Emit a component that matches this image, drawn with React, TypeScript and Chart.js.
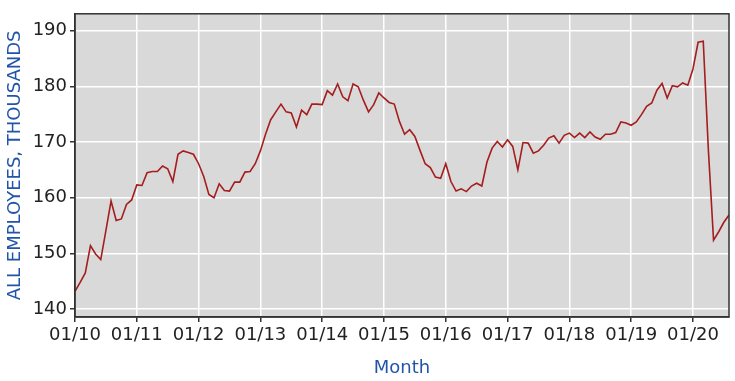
import React, { useEffect, useRef } from "react";
import { Chart, registerables } from "chart.js";

Chart.register(...registerables);

const tickLabels = ["01/10", "01/11", "01/12", "01/13", "01/14", "01/15", "01/16", "01/17", "01/18", "01/19", "01/20"];

const y2010 = [143.2, 144.8, 146.5, 151.4, 149.9, 148.9, 154.1, 159.4, 155.9, 156.2, 158.8, 159.6];
const y2011 = [162.3, 162.2, 164.5, 164.7, 164.7, 165.7, 165.2, 162.9, 167.8, 168.4, 168.1, 167.8];
const y2012 = [166.1, 163.8, 160.6, 160.0, 162.5, 161.3, 161.2, 162.8, 162.8, 164.6, 164.7, 166.1];
const y2013 = [168.4, 171.4, 174.0, 175.4, 176.8, 175.4, 175.2, 172.7, 175.7, 174.9, 176.8, 176.8];
const y2014 = [176.7, 179.2, 178.4, 180.4, 178.1, 177.4, 180.4, 179.9, 177.5, 175.4, 176.7, 178.8];
const y2015 = [177.9, 177.1, 176.8, 173.7, 171.4, 172.2, 171.0, 168.5, 166.1, 165.4, 163.7, 163.5];
const y2016 = [166.1, 162.9, 161.2, 161.6, 161.1, 162.1, 162.6, 162.1, 166.4, 168.9, 170.1, 169.1];
const y2017 = [170.4, 169.2, 165.0, 169.9, 169.8, 168.0, 168.4, 169.4, 170.7, 171.1, 169.8, 171.2];
const y2018 = [171.6, 170.8, 171.6, 170.8, 171.8, 170.9, 170.5, 171.4, 171.4, 171.7, 173.6, 173.4];
const y2019 = [173.0, 173.6, 174.9, 176.4, 177.0, 179.3, 180.5, 177.9, 180.1, 179.9, 180.6, 180.2];
const y2020 = [183.1, 187.9, 188.1, 168.5, 152.4, 153.9, 155.6, 156.9];

const yTicks = [140, 150, 160, 170, 180, 190];

const values = [
  ...y2010, ...y2011, ...y2012, ...y2013, ...y2014, ...y2015,
  ...y2016, ...y2017, ...y2018, ...y2019, ...y2020,
];

const FONT = "'DejaVu Sans', sans-serif";

const plotBox = {
  id: "plotBox",
  beforeDraw(chart: any) {
    const { ctx, chartArea: a } = chart;
    ctx.save();
    ctx.fillStyle = "#d9d9d9";
    ctx.fillRect(a.left, a.top, a.right - a.left, a.bottom - a.top);
    ctx.restore();
  },
  afterDraw(chart: any) {
    const { ctx, chartArea: a } = chart;
    ctx.save();
    ctx.strokeStyle = "#333333";
    ctx.lineWidth = 1.5;
    ctx.strokeRect(a.left, a.top, a.right - a.left, a.bottom - a.top);
    ctx.restore();
  },
};

export default function App() {
  const ref = useRef<HTMLCanvasElement | null>(null);
  useEffect(() => {
    if (!ref.current) return;
    const chart = new Chart(ref.current, {
      type: "line",
      data: {
        datasets: [
          {
            data: values.map((v, i) => ({ x: i, y: v })),
            borderColor: "#a51d1d",
            borderWidth: 1.6,
            pointRadius: 0,
            tension: 0,
            fill: false,
          },
        ],
      },
      options: {
        responsive: false,
        animation: false,
        layout: { padding: { left: 0, right: 6, top: 7, bottom: 0 } },
        plugins: { legend: { display: false }, tooltip: { enabled: false } },
        scales: {
          x: {
            type: "linear",
            min: 0,
            max: values.length - 1,
            afterBuildTicks: (s: any) => {
              s.ticks = tickLabels.map((_, i) => ({ value: i * 12 }));
            },
            afterFit: (s: any) => {
              s.height = 64;
            },
            ticks: {
              autoSkip: false,
              maxRotation: 0,
              padding: 3,
              color: "#222",
              font: { family: FONT, size: 18 },
              callback: (v: any) => tickLabels[Math.round(Number(v) / 12)] ?? "",
            },
            grid: { color: "#ffffff", lineWidth: 1.5, tickColor: "#333", tickLength: 5 },
            border: { display: true, color: "#333", width: 1.5 },
            title: {
              display: true,
              text: "Month",
              color: "#2255aa",
              font: { family: FONT, size: 18 },
              padding: { top: 0, bottom: 2 },
            },
          },
          y: {
            min: 138.6,
            max: 193,
            afterBuildTicks: (s: any) => {
              s.ticks = yTicks.map((v) => ({ value: v }));
            },
            afterFit: (s: any) => {
              s.width = 75;
            },
            ticks: {
              padding: 3,
              color: "#222",
              font: { family: FONT, size: 18 },
              callback: (v: any) => String(v),
            },
            grid: { color: "#ffffff", lineWidth: 1.5, tickColor: "#333", tickLength: 5 },
            border: { display: true, color: "#333", width: 1.5 },
            title: {
              display: true,
              text: "ALL EMPLOYEES, THOUSANDS",
              color: "#2255aa",
              font: { family: FONT, size: 18 },
              padding: { top: 5, bottom: 0 },
            },
          },
        },
      },
      plugins: [plotBox],
    });
    return () => chart.destroy();
  }, []);
  return (
    <div style={{ position: "fixed", left: 0, top: 0, width: 735, height: 381, background: "#fff" }}>
      <canvas ref={ref} width={735} height={381} />
    </div>
  );
}
